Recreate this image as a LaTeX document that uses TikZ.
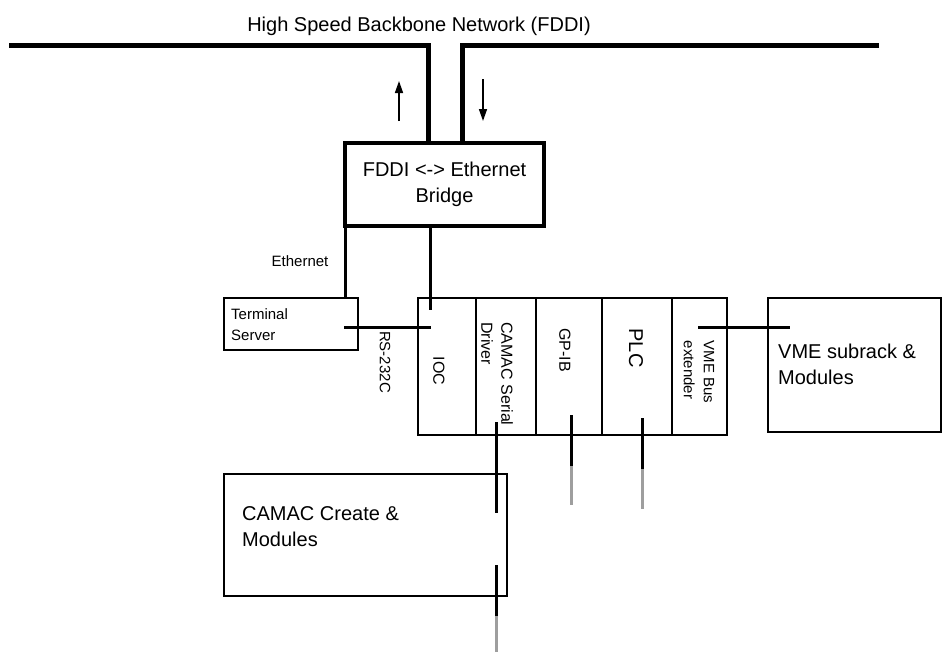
\documentclass[tikz,border=0pt]{standalone}
\usepackage{fontspec}
\setmainfont{Liberation Sans}
\usetikzlibrary{calc,arrows.meta}

\begin{document}
\begin{tikzpicture}[x=1pt,y=-1pt,
  box/.style={draw,line width=2pt,inner sep=0pt,outer sep=0pt},
  wire/.style={line width=3pt},
  tail/.style={line width=3pt,draw=black!38},
  trunk/.style={line width=5pt},
  flow/.style={line width=1.5pt,-{Triangle[length=12pt,width=8pt]}},
  big/.style={font=\fontsize{20}{26}\selectfont},
  mid/.style={font=\fontsize{16}{20}\selectfont},
  small/.style={font=\fontsize{15}{21}\selectfont}]
  \useasboundingbox (0,0) rectangle (943,653);
  % backbone and bridge
  \node[big,inner sep=0pt] (title) at (419,26) {High Speed Backbone Network (FDDI)};
  \node[box,big,line width=4.5pt,minimum width=199pt,minimum height=83pt,align=center] (bridge) at (444.5,184.5) {FDDI <-> Ethernet\\Bridge};
  \coordinate (bbL) at (9,45.5); \coordinate (bbR) at (879,45.5);
  \draw[trunk] (bbL) -| ($(bridge.north)+(-16.5,0)$);
  \draw[trunk] (bbR) -| ($(bridge.north)+(17.5,0)$);
  \coordinate (upS) at (399,121); \coordinate (upE) at (399,81);
  \coordinate (dnS) at (483,79); \coordinate (dnE) at (483,121);
  \draw[flow] (upS)--(upE);
  \draw[flow] (dnS)--(dnE);
  % terminal server and rack
  \node[box,minimum width=134pt,minimum height=52pt] (ts) at (291,324) {};
  \node[small,align=left,anchor=west,inner sep=0pt] (tstext) at (231,325) {Terminal\\Server};
  \foreach \n/\a/\b in {ioc/418/476,camac/476/536,gpib/536/602,plc/602/672,vmx/672/727}
    \node[box,minimum width={(\b-\a)*1pt},minimum height=137pt] (\n) at ({(\a+\b)/2},366.5) {};
  \node[mid,rotate=-90,inner sep=0pt] at (439,371) {IOC};
  \node[mid,rotate=-90,inner sep=0pt,align=left] at (497,374) {CAMAC Serial\\Driver};
  \node[mid,rotate=-90,inner sep=0pt] at (565,350) {GP-IB};
  \node[big,rotate=-90,inner sep=0pt] at (636,348) {PLC};
  \node[small,rotate=-90,inner sep=0pt,align=left,font=\fontsize{15}{20}\selectfont] at (699,372) {VME Bus\\extender};
  \node[small,rotate=-90,inner sep=0pt] (rs) at (385,362) {RS-232C};
  \node[small,inner sep=0pt] (eth) at (300,261) {Ethernet};
  % outside crates
  \node[box,minimum width=173pt,minimum height=134pt] (vme) at (854.5,365) {};
  \node[big,align=left,anchor=west,inner sep=0pt] at (778,364) {VME subrack \&\\Modules};
  \node[box,minimum width=283pt,minimum height=122pt] (crate) at (365.5,535) {};
  \node[big,align=left,anchor=west,inner sep=0pt] at (242,527) {CAMAC Create \&\\Modules};
  % wiring
  \coordinate (iocIn) at (430,310);
  \coordinate (rsA) at (344,327); \coordinate (rsB) at (431,327);
  \coordinate (vA) at (698,327); \coordinate (vB) at (790,327);
  \draw[wire] (bridge.south west) -- (bridge.south west |- ts.north);
  \draw[wire] ($(bridge.south)+(-14.5,0)$) -- (iocIn);
  \draw[wire] (rsA) -- (rsB);
  \draw[wire] (vA) -- (vB);
  \foreach \x/\t/\m/\e in {571/415/466/505,642/418/469/509}{
    \draw[wire] (\x,\t) -- (\x,\m);
    \draw[tail] (\x,\m) -- (\x,\e);
  }
  \coordinate (cs1) at (496,422); \coordinate (cs2) at (496,513);
  \coordinate (cs3) at (496,565); \coordinate (cs4) at (496,616); \coordinate (cs5) at (496,652);
  \draw[wire] (cs1) -- (cs2);
  \draw[wire] (cs3) -- (cs4);
  \draw[tail] (cs4) -- (cs5);
\end{tikzpicture}
\end{document}
